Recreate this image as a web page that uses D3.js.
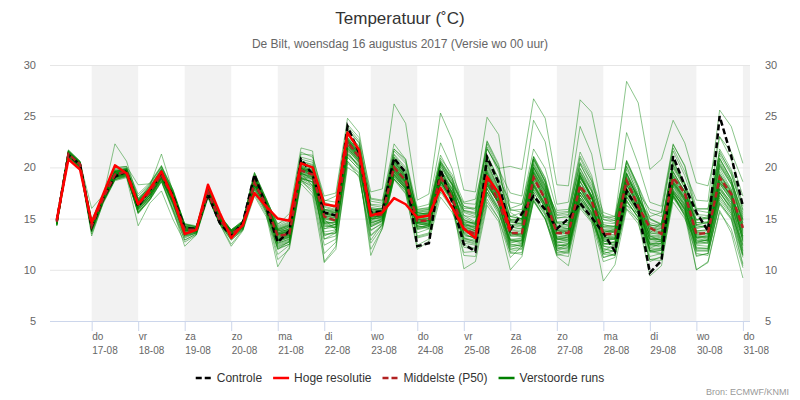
<!DOCTYPE html>
<html>
<head>
<meta charset="utf-8">
<script src="https://cdnjs.cloudflare.com/ajax/libs/d3/7.8.5/d3.min.js"></script>
<style>
  body { margin: 0; background: #fff; }
  svg { font-family: "Liberation Sans", Arial, sans-serif; display: block; }
</style>
</head>
<body>
<svg id="chart" width="800" height="400"></svg>
<script>
// 6-hourly steps, first value 16-08 06 UTC
const firstTime = Date.UTC(2017, 7, 16, 6);
const stepHours = 6;

const weekdays = ['do', 'vr', 'za', 'zo', 'ma', 'di', 'wo', 'do', 'vr', 'za', 'zo', 'ma', 'di', 'wo', 'do'];
const dates = ['17-08', '18-08', '19-08', '20-08', '21-08', '22-08', '23-08', '24-08',
  '25-08', '26-08', '27-08', '28-08', '29-08', '30-08', '31-08'];
const yTicks = [5, 10, 15, 20, 25, 30];

const controle = [14.8,21.2,20.3,14.2,17.0,19.1,19.6,16.2,17.8,19.3,17.2, 14.1,14.0,17.4,14.6,13.3,14.6,19.3,16.2,
  12.7,13.8,20.8,19.3, 15.6,15.3,24.0,21.4, 15.6,15.7,20.9,19.5, 12.3,12.6,19.8,16.6, 12.5,11.8,21.0,18.5,
  13.9,15.5,17.2,15.9, 14.0,15.0,16.5,15.1, 13.6,11.8,17.7,15.9, 9.7,10.9,21.1,18.2, 15.6,13.8,25.0,21.1, 16.2];

// high resolution run stops at 26-08 00 UTC
const hogeResolutie = [14.9,20.8,19.8,14.6,17.4,20.2,19.4,16.4,17.9,19.6,17.0, 13.5,13.9,18.3,15.6,13.1,14.4,17.5,16.2,
  15.0,14.8,20.4,20.0, 16.4,16.2,23.4,21.7, 15.3,15.6,17.0,16.4, 15.1,15.3,18.0,16.1, 14.0,13.1,19.1,17.5, 13.9];

const middelste = [14.7,21.3,20.3,14.3,17.0,19.3,19.6,16.4,17.6,19.3,17.0, 13.9,13.9,17.6,14.9,13.5,14.3,18.5,16.3,
  13.3,13.5,19.7,19.3, 15.2,14.8,22.5,21.0, 15.3,15.4,20.0,18.7, 14.8,14.8,19.1,17.0, 14.0,13.5,19.0,16.6,
  13.6,13.6,19.0,16.9, 13.6,13.6,18.2,16.7, 13.5,13.5,18.7,16.2, 14.1,13.5,19.0,17.5, 13.5,13.6,19.0,17.4, 14.1];

const verstoordeRuns = [
  [14.8,21.5,20.5,14.6,17.1,19.6,19.8,16.8,17.9,19.6,17.3, 14.1,14.0,17.8,15.1,13.6,14.4,18.9,16.5, 13.6,14.0,20.4,20.1, 16.2,15.9,23.3,22.1, 16.1,15.9,21.0,19.5, 15.2,15.3,19.8,17.6, 13.6,13.0,18.5,16.4, 12.9,12.8,18.1,16.0, 13.1,13.3,17.6,16.2, 13.8,13.7,19.4,16.9, 15.0,14.4,20.6,18.4, 14.3,14.2,20.1,18.3, 14.6],
  [14.5,21.1,20.1,14.0,16.8,19.0,19.3,15.9,17.0,18.9,16.5, 13.3,13.6,17.2,14.6,13.0,14.0,18.0,15.8, 12.0,12.8,18.9,18.3, 13.4,13.6,21.3,20.1, 14.4,14.8,19.8,18.4, 14.6,14.5,18.9,17.1, 14.3,14.0,19.5,17.4, 15.2,15.0,20.8,18.5, 15.3,15.4,20.5,18.7, 14.9,14.8,20.6,18.2, 15.0,14.5,20.6,18.5, 14.4,14.6,20.2,18.4, 14.3],
  [15.0,21.7,20.6,14.9,17.3,20.0,20.1,17.4,18.5,20.2,17.8, 14.4,14.2,18.1,15.3,13.7,14.6,19.1,16.7, 13.5,13.6,20.0,19.0, 14.3,14.1,21.8,20.5, 13.8,14.6,19.3,17.9, 13.1,13.4,17.8,16.0, 12.2,12.0,17.3,15.4, 12.9,12.6,18.4,16.5, 13.6,13.8,18.9,17.3, 13.7,13.8,19.4,16.9, 13.3,12.8,18.5,17.0, 12.9,12.9,17.9,16.6, 12.3],
  [14.7,21.3,20.4,14.3,17.0,19.3,19.5,16.2,17.4,19.1,16.6, 13.9,13.9,17.6,14.9,13.4,14.2,18.3,16.1, 12.6,13.0,19.3,19.0, 15.2,14.8,22.5,21.0, 15.9,16.0,20.8,19.3, 15.9,16.1,21.2,19.0, 16.2,15.8,22.0,19.5, 15.8,15.9,20.8,18.7, 14.6,14.3,19.4,17.2, 13.2,13.0,18.0,16.0, 13.3,12.9,18.5,16.8, 12.6,13.0,17.6,15.8, 11.5],
  [15.0,21.6,20.4,14.0,16.9,19.5,19.7,16.6,17.8,19.7,17.3, 13.8,13.9,17.5,14.8,13.6,14.4,18.8,16.4, 14.0,14.5,20.6,20.3, 16.6,16.2,23.6,22.4, 16.9,16.7,21.8,20.6, 15.4,15.6,20.0,18.3, 14.3,13.8,19.5,17.0, 13.6,13.5,19.2,16.8, 12.5,12.3,17.3,15.6, 11.8,11.4,16.8,15.0, 11.0,10.9,16.6,15.0, 12.6,12.7,18.0,16.6, 13.3],
  [14.4,21.0,19.9,13.7,16.6,18.8,19.1,15.6,16.9,18.7,15.9, 13.2,13.6,17.3,14.7,13.3,14.2,18.3,16.2, 13.0,13.4,19.6,19.5, 14.9,13.9,21.4,20.2, 14.2,14.8,18.9,17.7, 13.2,13.5,18.0,16.1, 11.7,11.8,16.9,15.0, 11.2,12.3,16.8,15.0, 12.0,12.5,16.3,15.0, 11.8,12.5,16.3,15.5, 13.5,13.6,19.1,17.6, 14.6,14.6,20.4,18.6, 15.6],
  [14.7,21.4,20.2,14.5,17.2,19.6,19.8,16.9,18.0,19.9,17.5, 14.2,14.1,18.0,15.2,13.8,14.6,19.1,16.7, 13.9,14.3,20.5,20.0, 15.6,15.6,22.8,21.5, 15.2,15.2,19.9,18.5, 15.0,15.3,19.6,17.9, 15.8,15.5,21.2,18.9, 16.6,16.4,21.8,19.9, 15.8,15.9,21.5,19.2, 14.2,14.1,20.1,17.2, 13.7,13.6,19.6,17.6, 15.3,15.0,21.8,19.8, 16.5],
  [14.9,21.2,20.0,14.0,16.8,19.1,19.3,15.9,17.1,19.0,16.6, 13.6,13.7,17.4,14.7,13.4,14.3,18.7,16.3, 12.9,13.2,19.5,18.8, 13.7,13.9,21.3,20.3, 13.9,14.5,19.3,18.0, 14.3,14.0,18.3,16.6, 13.6,13.5,18.7,16.5, 13.9,14.1,19.5,17.3, 14.2,14.2,19.5,17.2, 13.6,14.0,18.7,16.4, 12.1,12.6,17.4,15.2, 11.4,11.6,16.4,14.9, 10.4],
  [14.6,21.4,20.4,14.6,17.1,19.8,20.0,17.2,18.4,20.1,17.6, 14.5,14.2,18.2,15.3,13.9,14.7,19.5,17.0, 14.3,14.9,21.3,21.2, 16.7,17.2,24.2,22.9, 17.6,17.9,26.2,24.3, 16.8,17.4,25.3,22.7, 17.8,17.6,24.9,23.2, 15.6,14.9,20.8,18.6, 13.9,13.4,18.6,17.0, 12.6,12.4,17.6,15.9, 11.9,12.1,17.2,15.8, 13.1,12.8,18.5,17.4, 12.8],
  [14.3,21.0,19.9,13.5,16.5,18.7,19.0,14.3,16.5,17.7,14.9, 12.7,13.4,17.1,14.5,12.5,13.9,17.4,15.4, 10.3,12.2,18.4,17.2, 10.8,12.3,20.0,19.2, 12.9,14.5,19.4,18.2, 14.9,15.0,19.6,17.5, 15.1,14.6,20.0,17.8, 14.6,14.7,20.2,18.0, 13.0,12.8,17.9,16.0, 12.1,11.8,16.7,15.1, 12.5,12.2,17.7,16.4, 13.8,13.9,19.2,17.5, 14.0],
  [14.8,21.3,20.3,14.2,17.0,19.2,19.6,16.3,17.7,19.4,17.1, 13.9,13.8,17.5,14.9,13.5,14.3,18.5,16.3, 13.3,13.6,19.9,19.6, 15.6,15.3,22.6,21.2, 15.0,15.0,19.7,18.4, 14.3,14.6,18.7,17.0, 14.6,14.0,18.3,16.5, 14.1,14.3,19.7,17.4, 13.3,13.1,18.0,16.1, 13.0,13.0,18.0,15.9, 14.2,13.8,19.9,18.0, 14.0,14.3,19.6,17.8, 13.2],
  [14.5,21.2,20.2,14.1,17.0,19.3,19.6,16.5,17.5,19.2,16.8, 13.6,13.8,17.7,15.0,13.6,14.4,18.8,16.5, 13.8,13.9,19.4,18.2, 13.0,13.3,21.6,19.9, 11.4,14.1,18.9,17.7, 13.6,14.0,19.6,18.4, 16.2,16.0,22.3,19.8, 14.8,14.4,19.3,17.3, 12.3,12.6,17.5,16.1, 13.4,13.7,18.9,17.2, 14.3,14.4,20.2,18.0, 13.4,13.2,18.8,17.1, 13.6],
  [14.9,21.6,20.6,14.8,17.3,19.7,19.9,16.8,18.2,19.8,17.6, 14.3,14.0,17.9,15.1,13.8,14.6,19.2,16.8, 14.1,14.6,20.8,20.5, 16.5,16.0,23.8,22.4, 16.4,16.3,21.6,20.4, 15.7,15.9,20.5,18.9, 15.3,14.7,20.5,17.9, 13.6,13.2,18.3,16.4, 11.9,12.2,17.0,15.4, 12.3,12.0,17.2,15.6, 12.6,12.5,17.5,16.0, 11.8,11.9,17.0,15.5, 11.4],
  [14.6,21.2,20.2,14.4,17.1,19.1,19.4,16.0,17.3,19.1,16.8, 13.8,13.9,17.6,14.8,13.3,14.1,18.2,16.0, 12.4,12.8,19.0,18.6, 14.0,14.5,21.9,20.6, 15.6,15.4,20.3,18.9, 15.6,15.8,20.4,18.4, 13.9,13.3,18.4,16.5, 12.4,12.6,18.3,16.3, 12.2,12.1,16.8,15.3, 12.0,11.8,17.4,15.7, 10.8,11.3,17.1,15.6, 13.1,13.2,18.4,16.8, 11.8],
  [14.7,21.4,20.3,14.4,16.9,19.4,19.7,16.6,17.7,19.5,17.2, 14.0,14.0,17.7,15.0,13.7,14.4,18.7,16.4, 13.5,13.9,20.1,19.8, 15.9,15.6,22.9,21.6, 16.0,15.7,20.5,19.1, 15.6,15.4,19.0,17.6, 13.1,12.7,18.2,16.6, 12.2,12.5,17.8,16.1, 11.6,11.8,16.8,15.0, 11.2,11.5,16.0,14.8, 12.5,12.8,18.2,16.4, 12.0,12.1,17.2,15.7, 12.1],
  [14.4,21.0,20.0,13.9,16.7,19.0,19.2,15.7,17.1,18.9,16.3, 13.3,13.6,17.3,14.6,13.1,14.0,18.0,15.8, 12.2,12.7,19.0,18.5, 13.0,13.6,21.0,19.8, 13.4,14.4,19.1,17.9, 13.3,13.6,18.6,16.9, 10.1,10.8,16.3,14.7, 10.0,11.3,16.7,14.9, 11.5,11.3,16.2,14.8, 12.3,12.2,17.5,15.8, 13.0,13.2,18.9,17.0, 14.9,15.0,20.9,18.9, 15.2],
  [14.8,21.3,20.3,14.3,17.1,19.4,19.5,16.4,17.6,19.2,17.0, 13.8,13.9,17.8,15.1,13.6,14.5,18.9,16.5, 13.7,14.2,20.3,19.9, 15.4,15.3,22.2,21.0, 15.7,15.6,20.2,18.8, 14.9,15.1,19.3,17.5, 14.8,14.5,19.1,17.2, 14.9,14.8,20.4,18.2, 15.4,15.6,20.9,18.6, 14.4,14.2,19.1,17.0, 13.1,13.0,18.4,16.7, 13.5,13.5,18.8,17.2, 14.6],
  [14.5,21.1,20.1,13.9,16.9,19.0,19.4,16.1,17.2,19.0,16.5, 13.4,13.7,17.4,14.7,13.3,14.2,18.4,16.2, 12.8,13.1,19.1,18.9, 14.8,14.4,22.1,20.9, 14.6,14.9,19.6,18.1, 14.0,14.4,18.6,16.8, 14.4,14.2,19.2,17.2, 13.0,13.0,18.6,16.5, 12.1,12.0,17.3,15.5, 11.5,11.4,16.6,15.2, 11.7,11.9,17.4,15.9, 12.4,12.3,17.6,16.0, 12.5],
  [15.0,21.7,20.6,14.7,17.4,19.9,20.1,18.3,18.4,20.1,17.8, 14.5,14.3,18.2,15.4,13.9,14.8,19.5,16.9, 14.5,15.0,21.5,21.0, 17.2,17.5,24.8,23.4, 17.0,16.8,22.3,20.8, 15.5,15.5,20.3,18.2, 14.0,13.4,19.0,16.6, 12.0,12.3,17.6,15.6, 13.2,13.4,18.2,16.6, 14.9,14.6,20.1,17.8, 14.4,14.2,19.6,17.6, 14.6,14.7,20.6,18.6, 15.4],
  [14.6,21.3,20.4,14.5,17.0,19.2,19.5,16.3,17.5,19.3,16.9, 13.7,13.9,17.5,14.9,13.4,14.2,18.4,16.2, 13.0,13.4,19.4,19.1, 14.5,14.2,22.2,20.8, 14.8,15.2,19.6,18.3, 14.5,14.4,18.6,16.9, 14.9,14.4,19.7,17.5, 14.7,14.5,20.0,17.8, 13.8,13.9,19.0,17.0, 13.4,13.1,18.2,16.4, 14.9,14.4,20.0,18.3, 14.8,15.1,20.8,18.8, 14.4],
  [14.7,21.5,20.5,14.6,17.2,19.5,19.8,16.5,17.9,19.6,17.3, 14.1,14.1,17.8,15.1,13.7,14.5,18.9,16.6, 13.8,14.1,20.2,19.7, 15.8,15.6,22.7,21.3, 15.1,15.3,20.1,18.6, 13.9,14.2,18.6,16.9, 12.4,12.1,17.6,15.6, 11.6,11.7,16.9,15.0, 11.9,11.6,16.4,14.7, 8.9,10.5,15.9,14.5, 11.0,11.2,17.3,15.4, 12.2,12.1,17.5,16.0, 11.6],
  [14.5,21.1,20.2,14.1,16.9,19.2,19.4,16.0,17.3,19.0,16.7, 13.5,13.8,17.4,14.8,13.2,14.2,18.3,16.1, 12.6,13.0,19.0,18.8, 14.6,14.6,22.0,20.7, 15.4,15.7,20.6,19.0, 15.1,15.0,19.5,17.8, 15.7,15.4,21.2,18.8, 15.2,15.0,20.0,18.1, 13.9,14.0,19.2,16.9, 14.2,14.3,19.5,17.2, 13.9,14.0,19.5,17.7, 13.7,13.5,19.1,17.4, 13.9],
  [14.8,21.4,20.3,14.3,17.0,19.4,19.7,16.6,17.7,19.5,17.2, 14.0,13.9,17.7,14.9,13.6,14.3,18.7,16.4, 13.4,13.8,19.9,19.4, 15.3,15.1,22.6,21.1, 15.2,15.4,20.1,18.7, 14.9,14.9,19.0,17.4, 13.7,13.4,18.8,16.8, 13.4,13.5,19.1,16.9, 13.1,13.0,18.1,16.3, 13.0,13.1,18.7,16.2, 13.4,13.2,18.6,17.1, 13.8,13.9,19.4,17.6, 14.1],
  [14.3,21.0,20.0,13.3,16.6,18.8,19.1,15.5,16.8,18.6,15.8, 12.9,13.5,17.2,14.5,12.9,13.9,17.8,15.6, 11.5,12.4,18.8,17.5, 11.6,12.7,20.4,19.4, 12.6,14.2,18.9,17.5, 12.0,12.8,17.1,15.6, 13.2,13.3,18.4,16.4, 13.6,13.8,19.2,17.0, 12.7,13.0,17.9,16.1, 12.8,12.6,17.8,16.1, 11.8,11.9,17.2,15.6, 11.3,11.6,16.5,15.1, 10.6],
  [14.9,21.5,20.4,14.4,17.1,19.6,19.8,16.7,18.0,19.7,17.4, 14.2,14.0,17.9,15.2,13.8,14.6,19.0,16.7, 14.0,14.4,20.6,20.2, 16.1,15.8,23.1,21.8, 16.3,16.1,21.2,19.8, 14.7,14.8,19.1,17.4, 12.8,12.5,17.9,15.9, 12.6,12.9,18.1,16.3, 14.2,14.5,19.6,17.7, 15.1,15.2,20.7,18.2, 15.6,15.2,21.6,19.2, 15.8,15.6,21.2,19.3, 15.8],
  [14.6,21.2,20.1,14.2,16.8,19.1,19.5,16.2,17.4,19.2,16.8, 13.7,13.8,17.5,14.8,13.4,14.3,18.5,16.3, 13.1,13.5,19.6,19.3, 15.0,14.9,22.4,21.0, 15.3,15.1,19.9,18.6, 15.0,15.2,19.4,17.6, 14.4,14.1,19.4,17.3, 14.4,14.6,20.0,17.7, 13.6,13.5,18.7,16.6, 12.5,12.8,17.8,15.8, 12.9,13.0,18.4,16.7, 12.9,12.8,18.2,16.3, 13.5],
  [14.7,21.3,20.3,14.4,17.0,19.3,19.6,16.4,17.6,19.3,17.0, 13.9,13.9,17.6,15.0,13.5,14.3,18.6,16.3, 13.2,13.5,19.8,19.4, 15.1,14.9,22.5,21.0, 15.4,15.5,20.0,18.7, 14.8,14.8,19.2,17.2, 14.0,13.6,19.0,16.9, 13.4,13.5,19.0,16.7, 14.1,14.0,19.2,17.2, 14.6,14.5,19.8,17.5, 15.9,15.6,22.2,20.2, 16.0,15.9,23.0,20.8, 17.2],
  [14.4,21.1,20.2,13.9,16.8,19.0,19.3,15.8,17.1,18.9,16.4, 13.4,13.7,17.4,14.7,13.2,14.1,18.2,16.0, 12.3,12.7,18.9,18.6, 14.0,14.2,21.7,20.4, 14.6,14.9,19.4,18.0, 14.1,14.4,18.9,17.2, 13.5,13.0,18.2,16.5, 12.8,12.9,18.5,16.3, 12.6,12.8,17.6,15.9, 12.8,12.6,17.9,15.9, 12.4,12.6,17.9,16.2, 12.1,12.0,17.3,15.5, 12.4],
  [15.1,21.6,20.5,14.5,17.2,22.3,20.6,16.9,18.1,19.8,17.5, 14.3,14.1,17.9,15.1,13.8,14.6,19.1,16.7, 13.9,14.4,20.5,20.0, 15.9,15.8,23.4,22.0, 15.8,15.8,20.7,19.2, 14.6,14.7,19.3,17.6, 14.5,14.3,19.8,17.7, 14.9,15.0,20.6,18.3, 14.7,14.6,19.9,17.8, 13.3,13.4,18.3,16.6, 12.3,12.4,17.8,16.2, 13.2,13.0,18.6,17.0, 13.1],
  [14.5,21.2,20.2,14.0,16.9,19.2,19.5,16.1,17.3,19.1,16.6, 13.6,13.8,17.5,14.8,13.4,14.3,18.4,16.1, 12.9,13.3,19.4,19.0, 14.4,14.1,21.9,20.6, 14.2,14.7,19.1,17.9, 14.5,14.4,18.6,16.8, 14.6,14.6,20.3,18.1, 15.2,15.6,21.1,19.0, 14.5,14.4,19.9,17.7, 13.8,13.6,18.6,16.7, 13.6,13.4,18.9,17.2, 13.1,13.4,18.4,16.8, 13.7],
  [14.3,21.0,20.0,13.7,16.7,18.8,19.2,15.5,16.8,18.6,15.6, 12.9,13.5,17.2,14.5,12.9,13.9,17.6,15.6, 11.0,12.0,18.6,17.8, 12.4,13.0,20.6,19.5, 12.0,14.0,18.8,17.4, 12.4,13.0,17.6,15.9, 11.4,11.3,16.6,15.0, 11.7,11.5,16.7,15.0, 11.3,10.4,16.0,14.6, 10.8,11.2,16.3,14.8, 9.4,10.4,17.2,15.3, 10.0,10.8,15.8,13.6, 9.2],
  [14.8,21.4,20.4,14.5,17.1,19.5,19.7,16.6,17.8,19.6,17.2, 14.1,14.0,17.8,15.0,13.7,14.4,18.8,16.5, 13.6,14.0,20.0,19.6, 15.6,15.4,22.7,21.4, 15.6,15.7,20.6,19.1, 15.2,15.5,20.3,18.4, 16.5,16.4,22.6,20.3, 13.7,13.3,19.5,17.6, 11.7,11.9,17.0,15.4, 11.6,11.8,17.1,15.4, 11.9,12.0,17.6,15.9, 11.6,11.4,16.6,15.0, 11.2],
  [14.6,21.3,20.3,14.3,16.9,19.3,19.6,16.3,17.6,19.3,16.9, 13.8,13.9,17.6,14.9,13.5,14.3,18.6,16.3, 13.3,13.6,19.8,19.5, 15.3,15.0,22.5,21.1, 15.4,15.4,20.0,18.6, 14.9,14.8,19.2,17.2, 14.2,13.8,19.2,16.9, 13.6,13.6,19.3,16.9, 13.5,13.3,18.6,16.4, 13.1,13.3,18.6,16.3, 14.2,14.0,19.3,17.6, 13.2,13.3,19.0,17.0, 14.3],
  [14.4,21.1,20.1,13.8,16.7,18.9,19.2,15.6,16.9,18.7,15.8, 12.3,13.4,17.0,14.5,12.3,13.8,17.2,15.2, 12.1,12.5,18.8,18.0, 13.3,13.8,21.0,19.8, 14.8,15.6,21.8,20.8, 16.1,16.4,22.4,19.9, 15.6,15.2,21.0,18.5, 13.3,13.2,18.8,16.8, 12.7,12.6,17.6,15.8, 12.8,13.0,18.4,16.4, 13.8,13.7,18.9,17.3, 14.3,14.1,19.9,17.9, 14.9],
  [14.9,21.6,20.5,16.0,17.3,19.7,19.9,16.8,18.2,21.3,17.6, 14.4,14.2,18.1,15.3,13.9,14.7,19.3,16.9, 14.2,14.7,21.0,20.7, 16.8,16.6,24.0,22.6, 16.7,16.5,21.3,20.0, 15.8,15.9,20.5,18.6, 14.9,14.5,20.2,17.9, 14.8,14.9,20.3,18.2, 14.3,14.0,19.0,17.1, 13.6,13.4,18.8,16.9, 11.9,11.6,17.6,16.0, 12.8,12.6,17.8,16.4, 12.9],
  [14.6,21.2,20.2,14.1,16.9,19.1,19.4,16.0,17.3,19.0,16.7, 13.6,13.8,17.5,14.8,13.3,14.2,18.3,16.1, 12.7,13.2,19.2,18.9, 14.5,14.7,21.9,20.7, 15.0,15.3,19.7,18.3, 14.6,14.6,18.8,16.9, 13.1,12.9,18.0,16.1, 12.9,13.1,18.3,16.1, 13.9,13.8,19.2,17.0, 13.9,13.9,18.9,16.8, 12.7,12.8,18.7,16.8, 14.1,14.4,19.3,17.7, 14.8],
  [14.7,21.4,20.4,14.4,17.1,19.5,19.7,16.6,17.8,19.6,17.2, 14.0,14.0,17.8,15.1,13.6,14.4,18.7,16.4, 13.5,13.9,20.0,19.6, 15.5,15.2,22.8,21.4, 15.6,15.6,20.4,18.9, 15.4,15.6,20.6,18.7, 16.0,16.0,21.8,19.8, 17.5,17.2,24.6,22.5, 16.4,16.6,24.0,21.3, 15.2,14.8,20.6,18.0, 14.0,13.7,19.1,17.4, 13.4,13.6,18.6,17.2, 13.8],
  [14.5,21.1,20.1,14.0,16.8,19.0,19.3,15.9,17.1,18.9,16.4, 13.4,13.7,17.3,14.7,13.2,14.1,18.1,15.9, 12.5,12.9,18.9,18.6, 14.2,14.4,21.7,20.5, 14.5,15.0,19.3,18.0, 14.2,14.3,18.4,16.7, 13.9,13.7,18.6,16.6, 12.5,12.3,17.9,16.0, 13.0,13.2,18.2,16.5, 12.4,12.7,17.6,15.6, 13.0,12.7,18.3,16.5, 12.5,12.6,17.9,16.2, 13.0],
  [14.8,21.5,20.5,14.5,17.2,19.6,19.8,16.7,18.0,19.7,17.4, 14.2,14.1,17.9,15.1,13.8,14.6,19.0,16.7, 13.9,14.3,20.4,20.0, 15.9,15.7,23.2,21.8, 15.9,15.9,20.9,19.4, 15.3,15.4,19.6,17.9, 14.7,14.4,19.6,17.4, 14.4,14.3,19.8,17.6, 15.1,15.1,20.4,18.0, 14.4,14.2,19.4,17.3, 14.6,14.3,20.4,18.4, 14.9,15.2,21.6,19.4, 15.9],
  [14.6,21.3,20.3,14.3,17.0,19.3,19.6,16.4,17.6,19.3,17.0, 13.9,13.9,17.6,14.9,13.5,14.3,18.6,16.3, 13.2,13.5,19.7,19.3, 15.0,14.7,22.4,21.0, 14.9,15.2,19.8,18.5, 14.5,14.3,18.4,16.8, 12.9,12.6,17.5,15.7, 12.0,12.1,17.2,15.4, 12.4,12.3,17.0,15.6, 12.6,12.4,17.4,15.8, 11.3,11.6,17.0,15.4, 12.7,12.9,17.6,16.1, 11.9],
  [14.8,21.6,20.5,14.6,17.2,19.6,19.9,17.0,18.3,20.0,17.7, 14.4,14.2,18.1,15.3,13.9,14.8,19.4,16.9, 14.4,15.5,21.9,21.6, 10.7,12.0,20.6,19.0, 13.3,14.3,19.2,17.8, 14.0,14.2,18.6,17.0, 12.6,12.4,17.6,15.9, 12.3,12.4,17.6,15.5, 12.9,13.2,18.3,16.2, 13.1,13.2,18.3,16.1, 13.0,12.9,18.5,16.9, 13.7,13.7,19.3,17.6, 12.7],
  [14.5,21.2,20.1,14.0,16.8,19.1,19.4,16.1,17.3,19.1,16.6, 13.5,13.8,17.4,14.8,13.3,14.2,18.4,16.2, 12.9,13.2,19.4,19.1, 14.6,14.4,22.1,20.7, 14.7,15.0,19.6,18.2, 14.6,14.5,18.8,17.1, 14.1,13.9,19.0,17.0, 13.8,13.9,19.5,17.1, 13.6,13.8,19.2,17.1, 13.9,13.8,18.9,16.6, 13.2,13.4,18.7,17.0, 13.6,13.5,18.9,17.3, 14.2],
  [14.7,21.3,20.3,14.3,17.0,19.4,19.6,16.4,17.7,19.4,17.0, 13.9,13.9,17.7,15.0,13.6,14.4,18.7,16.4, 13.5,13.8,19.9,19.4, 15.2,15.1,22.6,21.2, 15.4,15.3,20.2,18.8, 15.3,15.3,19.8,18.0, 14.4,14.2,19.2,17.4, 14.3,14.5,20.0,17.9, 15.6,15.7,21.1,18.9, 15.6,15.2,23.4,20.3, 16.6,16.2,22.3,20.1, 15.4,15.3,20.9,18.8, 15.0],
  [14.4,21.0,20.0,13.8,16.7,18.9,19.2,15.6,16.9,18.8,16.1, 13.1,13.6,17.3,14.6,13.1,14.0,17.9,15.7, 12.0,12.5,18.7,18.2, 13.5,13.6,21.2,20.1, 14.3,14.8,19.5,18.1, 14.2,14.2,18.7,16.9, 13.0,12.8,17.9,15.9, 11.8,12.0,17.1,15.3, 11.4,11.7,16.6,15.1, 11.2,11.6,16.8,15.1, 12.1,12.1,17.5,16.1, 11.9,11.8,16.8,15.3, 11.4],
  [14.7,21.4,20.4,14.4,17.1,19.4,19.7,16.6,17.8,19.5,17.2, 14.1,14.0,17.8,15.1,13.7,14.5,18.8,16.5, 13.6,14.0,20.1,19.7, 15.6,15.3,22.7,21.3, 15.5,15.6,20.3,18.9, 14.8,15.0,19.3,17.5, 14.0,13.8,19.0,17.2, 14.2,14.0,19.6,17.6, 13.8,13.6,19.2,17.1, 13.5,13.8,19.3,16.9, 15.2,15.6,21.9,19.6, 16.8,16.7,25.6,24.0, 20.4],
  [14.5,21.2,20.2,14.1,16.9,19.1,19.4,16.1,17.3,19.1,16.7, 13.6,13.8,17.5,14.8,13.3,14.2,18.4,16.1, 13.0,13.3,19.5,19.2, 14.9,14.8,22.3,20.9, 15.1,15.3,20.0,18.6, 14.6,14.7,19.1,17.3, 13.8,13.5,18.7,16.8, 13.3,13.4,18.8,16.8, 13.0,12.9,18.0,16.1, 12.9,13.0,18.3,16.2, 12.5,12.6,18.1,16.3, 13.3,13.1,18.5,16.9, 13.3],
  [14.6,21.3,20.3,14.2,17.0,19.2,19.5,16.3,17.5,19.2,16.9, 13.8,13.9,17.6,14.9,13.5,14.3,18.5,16.3, 13.1,13.4,19.6,19.2, 14.7,14.6,22.2,20.8, 15.0,15.1,19.8,18.5, 14.7,14.8,19.0,17.3, 13.4,13.1,18.5,16.6, 12.7,12.8,18.2,16.3, 12.3,12.5,17.3,15.6, 11.6,11.9,17.1,15.4, 11.8,11.5,17.7,15.8, 10.0,10.7,15.6,14.0, 10.2],
  [14.8,21.4,20.4,14.6,17.2,19.6,19.8,16.7,17.9,19.6,17.3, 14.2,14.1,17.9,15.2,13.8,14.6,19.0,16.6, 13.8,14.2,20.3,19.9, 15.8,15.5,22.9,21.5, 15.7,15.8,20.7,19.2, 15.6,15.7,20.1,18.3, 15.3,15.1,20.6,18.4, 15.9,15.6,21.0,18.9, 15.0,15.3,20.3,18.3, 15.3,15.0,20.4,18.0, 13.6,14.6,20.2,18.4, 15.9,16.0,21.4,19.6, 16.2],
  [14.6,21.3,20.3,14.3,17.0,19.3,19.6,16.5,17.7,19.4,17.1, 14.0,13.9,17.7,15.0,13.6,14.4,18.7,16.4, 13.4,13.8,19.9,19.5, 15.4,15.2,22.7,21.3, 15.5,15.6,20.5,19.0, 15.3,15.5,20.7,18.9, 15.8,15.6,22.5,20.1, 16.0,16.4,21.0,18.6, 14.6,14.8,19.5,17.6, 14.1,14.0,19.1,17.2, 14.4,14.1,19.2,17.7, 14.4,14.6,20.3,18.4, 14.9],
  [14.7,21.4,20.3,14.4,17.1,19.4,19.7,16.5,17.7,19.5,17.1, 14.0,14.0,17.7,15.0,13.6,14.4,18.6,16.4, 13.4,13.8,20.0,19.6, 15.4,15.4,22.9,21.6, 15.8,16.0,21.0,19.6, 15.9,16.0,20.9,19.3, 16.6,16.9,21.8,19.9, 20.1,19.8,26.7,24.8, 18.3,18.2,26.6,25.4, 19.8,19.8,28.4,26.3, 19.8,20.8,24.6,22.4, 18.5,18.2,23.0,21.5, 18.6]
];

const legendItems = [
  { name: 'Controle', color: '#000000', dash: '6,3', width: 2.5 },
  { name: 'Hoge resolutie', color: '#ff0000', dash: null, width: 2.5 },
  { name: 'Middelste (P50)', color: '#b22222', dash: '6,3', width: 2.5 },
  { name: 'Verstoorde runs', color: '#008000', dash: null, width: 2.5 }
];

const width = 800, height = 400;
const plot = { left: 50, right: 750, top: 65, bottom: 321 };
const fontFamily = '"Liberation Sans", Arial, sans-serif';

const timeAt = i => new Date(firstTime + i * stepHours * 3600e3);
const dayTicks = dates.map((d, i) => new Date(Date.UTC(2017, 7, 17 + i)));

const svg = d3.select('#chart');

const x = d3.scaleUtc()
  .domain([Date.UTC(2017, 7, 16, 2, 30), Date.UTC(2017, 7, 31, 3, 40)])
  .range([plot.left, plot.right]);

const y = d3.scaleLinear()
  .domain([5, 30])
  .range([plot.bottom, plot.top]);

// alternating day bands
svg.append('g')
  .selectAll('rect')
  .data(dayTicks.filter((d, i) => i % 2 === 0))
  .enter()
  .append('rect')
  .attr('x', d => x(d))
  .attr('y', plot.top)
  .attr('width', d => Math.min(plot.right, x(d3.utcDay.offset(d, 1))) - x(d))
  .attr('height', plot.bottom - plot.top)
  .attr('fill', '#f2f2f2');

// horizontal grid
const grid = svg.append('g')
  .attr('transform', `translate(${plot.left},0)`)
  .call(d3.axisLeft(y).tickValues(yTicks.slice(1)).tickSize(-(plot.right - plot.left)).tickFormat(''));
grid.select('.domain').remove();
grid.selectAll('line').attr('stroke', '#e6e6e6');

// y labels, both sides
const yLeft = svg.append('g')
  .attr('transform', `translate(${plot.left},0)`)
  .call(d3.axisLeft(y).tickValues(yTicks).tickSize(0).tickPadding(14));
const yRight = svg.append('g')
  .attr('transform', `translate(${plot.right},0)`)
  .call(d3.axisRight(y).tickValues(yTicks).tickSize(0).tickPadding(15));
[yLeft, yRight].forEach(g => {
  g.select('.domain').remove();
  g.attr('color', '#666666')
    .attr('font-size', 11)
    .attr('font-family', fontFamily);
});

// x axis with two-line day labels
const xAxis = svg.append('g')
  .attr('transform', `translate(0,${plot.bottom})`)
  .attr('color', '#ccd6eb')
  .attr('font-size', 11)
  .attr('font-family', fontFamily)
  .call(d3.axisBottom(x).tickValues(dayTicks).tickSize(10).tickFormat(''));
xAxis.select('.domain')
  .attr('d', `M${plot.left},0.5H${plot.right}`);
xAxis.selectAll('.tick text')
  .attr('text-anchor', 'start')
  .attr('fill', '#666666')
  .attr('y', null)
  .attr('dy', null)
  .each(function(d, i) {
    const t = d3.select(this);
    t.append('tspan').attr('x', 0).attr('y', 18.5).text(weekdays[i]);
    t.append('tspan').attr('x', 0).attr('y', 32.5).text(dates[i]);
  });

const line = d3.line()
  .x((d, i) => x(timeAt(i)))
  .y(d => y(d));

// ensemble members
svg.append('g')
  .selectAll('path')
  .data(verstoordeRuns)
  .enter()
  .append('path')
  .attr('d', line)
  .attr('fill', 'none')
  .attr('stroke', '#008000')
  .attr('stroke-width', 1)
  .attr('stroke-opacity', 0.45);

svg.append('path')
  .attr('d', line(controle))
  .attr('fill', 'none')
  .attr('stroke', '#000000')
  .attr('stroke-width', 2.5)
  .attr('stroke-dasharray', '6,3');

svg.append('path')
  .attr('d', line(middelste))
  .attr('fill', 'none')
  .attr('stroke', '#b22222')
  .attr('stroke-width', 2.5)
  .attr('stroke-dasharray', '6,3');

svg.append('path')
  .attr('d', line(hogeResolutie))
  .attr('fill', 'none')
  .attr('stroke', '#ff0000')
  .attr('stroke-width', 2.5)
  .attr('stroke-linejoin', 'round');

// titles
svg.append('text')
  .attr('x', width / 2)
  .attr('y', 24)
  .attr('text-anchor', 'middle')
  .attr('font-size', 17)
  .attr('fill', '#333333')
  .text('Temperatuur (˚C)');

svg.append('text')
  .attr('x', width / 2)
  .attr('y', 48)
  .attr('text-anchor', 'middle')
  .attr('font-size', 12)
  .attr('fill', '#666666')
  .text('De Bilt, woensdag 16 augustus 2017 (Versie wo 00 uur)');

// legend, centred
const legend = svg.append('g').attr('transform', 'translate(0,378)');
const items = legend.selectAll('g')
  .data(legendItems)
  .enter()
  .append('g');
items.append('line')
  .attr('x1', 0).attr('x2', 16)
  .attr('y1', 0).attr('y2', 0)
  .attr('stroke', d => d.color)
  .attr('stroke-width', d => d.width)
  .attr('stroke-dasharray', d => d.dash);
items.append('text')
  .attr('x', 21)
  .attr('y', 4)
  .attr('font-size', 12)
  .attr('fill', '#333333')
  .text(d => d.name);
const widths = [];
items.each(function() {
  widths.push(21 + d3.select(this).select('text').node().getComputedTextLength());
});
const gap = 11;
const total = d3.sum(widths) + gap * (widths.length - 1);
let cursor = width / 2 - total / 2;
items.attr('transform', (d, i) => {
  const pos = cursor;
  cursor += widths[i] + gap;
  return `translate(${pos},0)`;
});

svg.append('text')
  .attr('x', 789)
  .attr('y', 395)
  .attr('text-anchor', 'end')
  .attr('font-size', 9)
  .attr('fill', '#999999')
  .text('Bron: ECMWF/KNMI');
</script>
</body>
</html>
